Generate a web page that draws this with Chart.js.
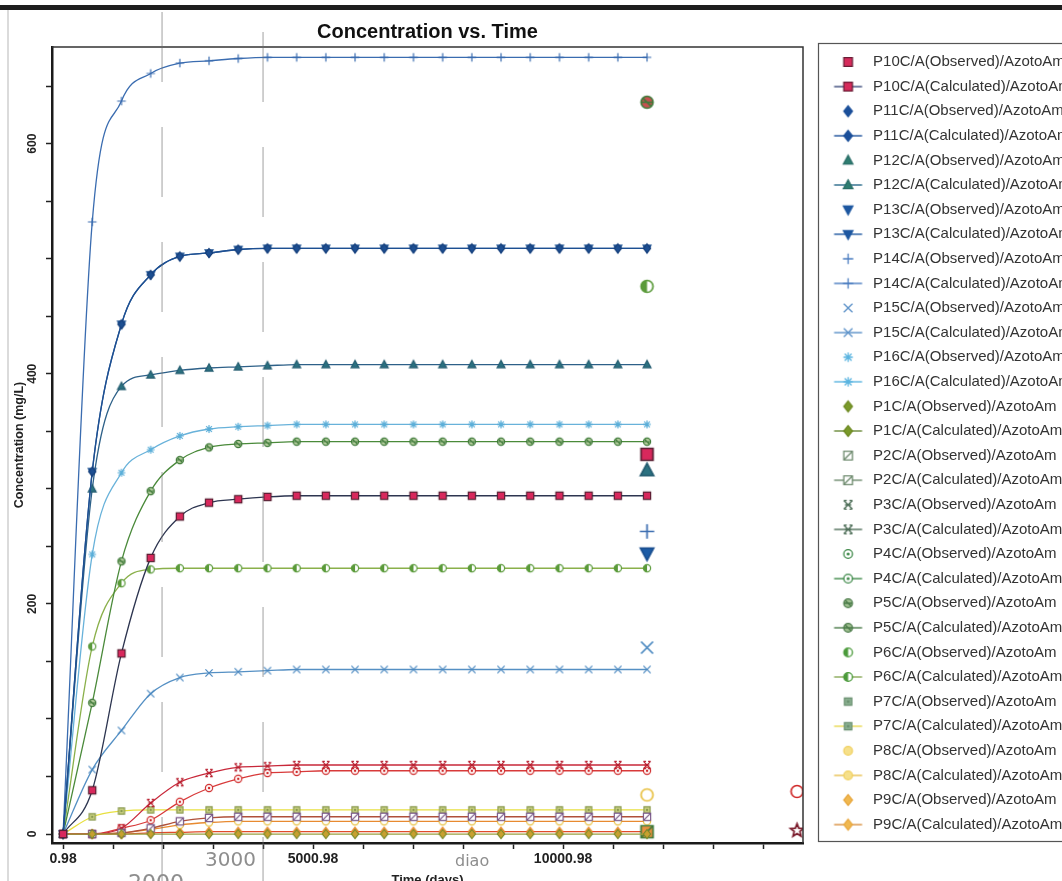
<!DOCTYPE html>
<html><head><meta charset="utf-8">
<script src="https://cdn.jsdelivr.net/npm/chart.js@4.4.1/dist/chart.umd.min.js"></script>
<style>html,body{margin:0;padding:0;overflow:hidden;background:#fff}#wrap{width:1062px;height:896px;position:relative}</style>
</head><body><div id="wrap"><canvas id="c" width="1062" height="896"></canvas></div>
<script>
// ---------- DATA ----------
const seriesNames = ['P10','P11','P12','P13','P14','P15','P16','P1','P2','P3','P4','P5','P6','P7','P8','P9'];
const calculatedDays = [0.98,584.98,1168.98,1752.98,2336.98,2920.98,3504.98,4088.98,4672.98,5256.98,5840.98,6424.98,7008.98,7592.98,8176.98,8760.98,9344.98,9928.98,10512.98,11096.98,11680.98];
const P10_calc = [0,38,157,240,276,288,291,293,294,294,294,294,294,294,294,294,294,294,294,294,294];
const P11_calc = [0,315,443,486,502,505,508,509,509,509,509,509,509,509,509,509,509,509,509,509,509];
const P12_calc = [0,300,389,399,403,405,406,407,408,408,408,408,408,408,408,408,408,408,408,408,408];
const P13_calc = [0,315,443,486,502,505,508,509,509,509,509,509,509,509,509,509,509,509,509,509,509];
const P14_calc = [0,532,637,661,670,672,674,675,675,675,675,675,675,675,675,675,675,675,675,675,675];
const P15_calc = [0,56,90,122,136,140,141,142,143,143,143,143,143,143,143,143,143,143,143,143,143];
const P16_calc = [0,243,314,334,346,352,354,355,356,356,356,356,356,356,356,356,356,356,356,356,356];
const P1_calc  = [0,0,0,0,0,0,0,0,0,0,0,0,0,0,0,0,0,0,0,0,0];
const P2_calc  = [0,0,1,5,11,14,15,15,15,15,15,15,15,15,15,15,15,15,15,15,15];
const P3_calc  = [0,0,5,27,45,53,58,59,60,60,60,60,60,60,60,60,60,60,60,60,60];
const P4_calc  = [0,0,5,12,28,40,48,53,54,55,55,55,55,55,55,55,55,55,55,55,55];
const P5_calc  = [0,114,237,298,325,336,339,340,341,341,341,341,341,341,341,341,341,341,341,341,341];
const P6_calc  = [0,163,218,230,231,231,231,231,231,231,231,231,231,231,231,231,231,231,231,231,231];
const P7_calc  = [0,15,20,21,21,21,21,21,21,21,21,21,21,21,21,21,21,21,21,21,21];
const P8_calc  = [0,0,1,4,8,10,11,11,11,11,11,11,11,11,11,11,11,11,11,11,11];
const P9_calc  = [0,0,0,1,1.5,2,2,2,2,2,2,2,2,2,2,2,2,2,2,2,2];
const calculatedValues = [P10_calc,P11_calc,P12_calc,P13_calc,P14_calc,P15_calc,P16_calc,P1_calc,P2_calc,P3_calc,P4_calc,P5_calc,P6_calc,P7_calc,P8_calc,P9_calc];
// observed: one measurement per series (null = not visible)
const observedDays   = [11680.98,null,11680.98,11680.98,11680.98,11680.98,null,null,11680.98,14680.98,14680.98,11680.98,11680.98,null,11680.98,null];
const observedValues = [330,null,316,244,263,162,null,null,2,3,37,636,476,null,34,null];
// axes
const xTickValues = [0.98,1000.98,2000.98,3000.98,4000.98,5000.98,6000.98,7000.98,8000.98,9000.98,10000.98,11000.98,12000.98,13000.98,14000.98];
const xTickLabels = ['0.98','5000.98','10000.98'];
const yTickValues = [0,50,100,150,200,250,300,350,400,450,500,550,600,650];
const yTickLabels = ['0','200','400','600'];
const annotationDays = [1980.98, 4000.98];
const handNotes = ['2000','3000','diao'];

// ---------- STYLES ----------
const styles = {
  P10:{kind:'square',  lgStroke:'#6a1d36',lgFill:'#d62b5b',lgLine:'#3b4a7a', line:'#2d3550', stroke:'#5a1f33', fill:'#d8285c'},
  P11:{kind:'diamond', lgStroke:'#1b4f9a',lgFill:'#1b4f9a',lgLine:'#1b4f9a', line:'#1d4f92', stroke:'#173f7a', fill:'#1d4f92'},
  P12:{kind:'tri',     lgStroke:'#2a6e68',lgFill:'#2e7d70',lgLine:'#2a6a8a', line:'#2d6088', stroke:'#245c70', fill:'#2b7180'},
  P13:{kind:'triDown', lgStroke:'#1d57a0',lgFill:'#1d57a0',lgLine:'#1d57a0', line:'#2a5c9a', stroke:'#1a4f90', fill:'#1d5ca6'},
  P14:{kind:'plus',    lgStroke:'#4a7cc0',lgFill:'#4a7cc0',lgLine:'#4a7cc0', line:'#3a6cb0', stroke:'#3a6cb0', fill:'#3a6cb0'},
  P15:{kind:'x',       lgStroke:'#5a90c8',lgFill:'#5a90c8',lgLine:'#5a90c8', line:'#5590c4', stroke:'#4a88c0', fill:'#4a88c0'},
  P16:{kind:'star',    lgStroke:'#5ab4e0',lgFill:'#5ab4e0',lgLine:'#5ab4e0', line:'#68b2da', stroke:'#5aaed8', fill:'#5aaed8'},
  P1: {kind:'diamond', lgStroke:'#6e8a22',lgFill:'#7a9a2a',lgLine:'#6a8a3a', line:'#9aa040', stroke:'#7a8a2a', fill:'#c8a030'},
  P2: {kind:'sqslash', lgStroke:'#6e8a6e',lgFill:'#ffffff',lgLine:'#6e8a6e', line:'#b0503a', stroke:'#7a5a8a', fill:'#ffffff', obsStroke:'#3f7a3a', obsFill:'#e89040'},
  P3: {kind:'xbox',    lgStroke:'#4e6e58',lgFill:'#4e6e58',lgLine:'#4e6e58', line:'#c8283a', stroke:'#b82030', fill:'#b82030', obsKind:'star5', obsStroke:'#7a1a2a', obsFill:'#ffffff'},
  P4: {kind:'circdot', lgStroke:'#3f8a4a',lgFill:'#ffffff',lgLine:'#3f8a4a', line:'#d83a3a', stroke:'#d02a2a', fill:'#ffffff', obsKind:'circle', obsFill:'#ffffff'},
  P5: {kind:'circline',lgStroke:'#4a7a48',lgFill:'#9fc090',lgLine:'#4a7a48', line:'#4a8a3a', stroke:'#3f7a3a', fill:'#b8d0a0', obsFill:'#c85050'},
  P6: {kind:'halfcirc',lgStroke:'#4a9a3a',lgFill:'#4a9a3a',lgLine:'#8aaa5a', line:'#8ab04a', stroke:'#5a9a3a', fill:'#5a9a3a'},
  P7: {kind:'sqdot',   lgStroke:'#6a9070',lgFill:'#8ab090',lgLine:'#e8d850', line:'#e8e040', stroke:'#8a9a50', fill:'#c8d080'},
  P8: {kind:'circle',  lgStroke:'#f0d060',lgFill:'#f6e08a',lgLine:'#e8c050', line:'#e88a30', stroke:'#e8c040', fill:'#ffffff'},
  P9: {kind:'diamond', lgStroke:'#e8a840',lgFill:'#f0b850',lgLine:'#d89040', line:'#e04a2a', stroke:'#e8862a', fill:'#f0a040'}
};

function drawMarker(ctx, kind, cx, cy, r, stroke, fill, lw){
  ctx.save(); ctx.lineWidth = lw; ctx.strokeStyle = stroke; ctx.fillStyle = fill; ctx.lineJoin='miter';
  ctx.beginPath();
  switch(kind){
    case 'square': ctx.rect(cx-r,cy-r,2*r,2*r); ctx.fill(); ctx.stroke(); break;
    case 'diamond': ctx.moveTo(cx,cy-r*1.25); ctx.lineTo(cx+r*1.0,cy); ctx.lineTo(cx,cy+r*1.25); ctx.lineTo(cx-r*1.0,cy); ctx.closePath(); ctx.fill(); ctx.stroke(); break;
    case 'tri': ctx.moveTo(cx,cy-r*1.2); ctx.lineTo(cx+r*1.1,cy+r*0.85); ctx.lineTo(cx-r*1.1,cy+r*0.85); ctx.closePath(); ctx.fill(); ctx.stroke(); break;
    case 'triDown': ctx.moveTo(cx,cy+r*1.2); ctx.lineTo(cx+r*1.1,cy-r*0.85); ctx.lineTo(cx-r*1.1,cy-r*0.85); ctx.closePath(); ctx.fill(); ctx.stroke(); break;
    case 'plus': ctx.moveTo(cx-r*1.2,cy); ctx.lineTo(cx+r*1.2,cy); ctx.moveTo(cx,cy-r*1.2); ctx.lineTo(cx,cy+r*1.2); ctx.stroke(); break;
    case 'x': ctx.moveTo(cx-r,cy-r); ctx.lineTo(cx+r,cy+r); ctx.moveTo(cx+r,cy-r); ctx.lineTo(cx-r,cy+r); ctx.stroke(); break;
    case 'star': ctx.moveTo(cx-r*1.1,cy); ctx.lineTo(cx+r*1.1,cy); ctx.moveTo(cx,cy-r*1.1); ctx.lineTo(cx,cy+r*1.1);
      ctx.moveTo(cx-r*0.8,cy-r*0.8); ctx.lineTo(cx+r*0.8,cy+r*0.8); ctx.moveTo(cx+r*0.8,cy-r*0.8); ctx.lineTo(cx-r*0.8,cy+r*0.8); ctx.stroke(); break;
    case 'star5': for(let k=0;k<10;k++){const ang=-Math.PI/2+k*Math.PI/5;const rr=(k%2===0)?r*1.15:r*0.5;const px=cx+rr*Math.cos(ang),py=cy+rr*Math.sin(ang);k?ctx.lineTo(px,py):ctx.moveTo(px,py);} ctx.closePath(); ctx.fill(); ctx.stroke(); break;
    case 'sqslash': ctx.rect(cx-r,cy-r,2*r,2*r); ctx.fill(); ctx.stroke(); ctx.beginPath(); ctx.moveTo(cx-r,cy+r); ctx.lineTo(cx+r,cy-r); ctx.stroke(); break;
    case 'xbox': ctx.moveTo(cx-r,cy-r); ctx.lineTo(cx+r,cy+r); ctx.moveTo(cx+r,cy-r); ctx.lineTo(cx-r,cy+r);
      ctx.moveTo(cx-r,cy-r); ctx.lineTo(cx-r*0.3,cy-r); ctx.moveTo(cx+r*0.3,cy-r); ctx.lineTo(cx+r,cy-r);
      ctx.moveTo(cx-r,cy+r); ctx.lineTo(cx-r*0.3,cy+r); ctx.moveTo(cx+r*0.3,cy+r); ctx.lineTo(cx+r,cy+r);
      ctx.moveTo(cx-r*0.7,cy); ctx.lineTo(cx+r*0.7,cy); ctx.stroke(); break;
    case 'circdot': ctx.arc(cx,cy,r,0,Math.PI*2); ctx.fill(); ctx.stroke(); ctx.beginPath(); ctx.fillStyle=stroke; ctx.arc(cx,cy,r*0.35,0,Math.PI*2); ctx.fill(); break;
    case 'circline': ctx.arc(cx,cy,r,0,Math.PI*2); ctx.fill(); ctx.stroke(); ctx.beginPath(); ctx.moveTo(cx-r,cy); ctx.lineTo(cx+r,cy); ctx.moveTo(cx-r*0.7,cy-r*0.7); ctx.lineTo(cx+r*0.7,cy+r*0.7); ctx.stroke(); break;
    case 'halfcirc': ctx.arc(cx,cy,r,0,Math.PI*2); ctx.fillStyle='#ffffff'; ctx.fill(); ctx.stroke(); ctx.beginPath(); ctx.fillStyle=fill; ctx.arc(cx,cy,r,Math.PI*0.5,Math.PI*1.5); ctx.closePath(); ctx.fill(); break;
    case 'sqdot': ctx.rect(cx-r*0.85,cy-r*0.85,1.7*r,1.7*r); ctx.fill(); ctx.stroke(); ctx.beginPath(); ctx.fillStyle=stroke; ctx.fillRect(cx-r*0.3,cy-r*0.3,r*0.6,r*0.6); break;
    case 'circle': ctx.arc(cx,cy,r,0,Math.PI*2); ctx.fill(); ctx.stroke(); break;
  }
  ctx.restore();
}
function makeCanvas(w,h){const c=document.createElement('canvas');c.width=w;c.height=h;return c;}
function pointImage(kind,r,stroke,fill,lw){
  const s=Math.ceil(2*r*1.3+2*lw+4); const c=makeCanvas(s,s);
  drawMarker(c.getContext('2d'),kind,s/2,s/2,r,stroke,fill,lw); return c;
}
function legendImage(st,withLine){
  const c=makeCanvas(53,18); const ctx=c.getContext('2d');
  if(withLine){ctx.strokeStyle=st.lgLine;ctx.lineWidth=1.4;ctx.beginPath();ctx.moveTo(21.5,9);ctx.lineTo(49.5,9);ctx.stroke();}
  drawMarker(ctx,st.kind,35.5,9,4.3,st.lgStroke,st.lgFill,1.3); return c;
}

// ---------- DATASETS ----------
const datasets=[]; const legendIcons=[];
seriesNames.forEach((name,i)=>{
  const st=styles[name];
  const obs = observedDays[i]!==null ? [{x:observedDays[i], y:observedValues[i]}] : [];
  datasets.push({label:name+'C/A(Observed)/AzotoAm', data:obs, showLine:false,
    pointStyle:pointImage(st.obsKind||st.kind,6,st.obsStroke||st.stroke,st.obsFill||st.fill,1.7), pointRadius:6, borderColor:st.stroke, backgroundColor:st.fill});
  legendIcons.push(legendImage(st,false));
  datasets.push({label:name+'C/A(Calculated)/AzotoAm',
    data:calculatedDays.map((d,k)=>({x:d,y:calculatedValues[i][k]})), showLine:true,
    borderColor:st.line, borderWidth:1.3, cubicInterpolationMode:'monotone',
    pointStyle:pointImage(st.kind,3.6,st.stroke,st.fill,1.2), pointRadius:4, backgroundColor:st.fill});
  legendIcons.push(legendImage(st,true));
});

Chart.defaults.font.family='"Liberation Sans", Arial, Helvetica, sans-serif';
Chart.defaults.color='#222';

const decor={
  id:'decor',
  beforeDraw(chart){const c=chart.ctx;c.save();c.fillStyle='#ffffff';c.fillRect(0,0,chart.width,chart.height);c.restore();},
  afterDraw(chart){
    const c=chart.ctx, a=chart.chartArea, xs=chart.scales.x, lg=chart.legend;
    c.save();
    // plot frame (top/right)
    c.strokeStyle='#333';c.lineWidth=1.5;c.beginPath();c.moveTo(a.left,a.top);c.lineTo(a.right,a.top);c.lineTo(a.right,a.bottom);c.stroke();
    // legend frame
    c.strokeStyle='#555';c.lineWidth=1.2;c.strokeRect(lg.left+15.5,a.top-3.5,400,a.bottom-a.top+2);
    // scan artifacts
    c.fillStyle='#1e1e1e';c.fillRect(0,5,chart.width,5);
    c.strokeStyle='#cfcfcf';c.lineWidth=1.5;c.beginPath();c.moveTo(8,10);c.lineTo(8,chart.height);c.stroke();
    c.strokeStyle='rgba(110,110,110,0.5)';c.lineWidth=1.3;c.setLineDash([70,45]);
    annotationDays.forEach((d,j)=>{const px=xs.getPixelForValue(d);c.beginPath();c.moveTo(px,12+j*20);c.lineTo(px,chart.height);c.stroke();});
    c.setLineDash([]);
    // handwritten notes
    c.fillStyle='#8e8e8e';
    c.font='22px "DejaVu Sans"';c.fillText(handNotes[0],128,890);
    c.font='20px "DejaVu Sans"';c.fillText(handNotes[1],205,866);
    c.font='16px "DejaVu Sans"';c.fillText(handNotes[2],455,866);
    c.restore();
  }
};

new Chart(document.getElementById('c'),{
  type:'scatter',
  data:{datasets},
  options:{
    responsive:false, animation:false, devicePixelRatio:1, events:[],
    layout:{padding:0},
    plugins:{
      tooltip:{enabled:false},
      title:{display:true,text:'Concentration vs. Time',fullSize:false,color:'#111',
        font:{size:20,weight:'bold'},padding:{top:20,bottom:3}},
      legend:{position:'right',align:'start',maxWidth:259,
        title:{display:true,text:' ',font:{size:12},padding:{top:15.25,bottom:15.25}},
        labels:{usePointStyle:true,pointStyleWidth:53,padding:9.6,color:'#333',font:{size:15},
          generateLabels(chart){return chart.data.datasets.map((ds,i)=>({text:ds.label,pointStyle:legendIcons[i],
            fillStyle:'#fff',strokeStyle:'#fff',lineWidth:0,hidden:false,datasetIndex:i,fontColor:'#333'}));}}
      }
    },
    scales:{
      x:{type:'linear',position:'bottom',min:-220,max:14800,
        afterBuildTicks(s){s.ticks=xTickValues.map(v=>({value:v}));},
        afterFit(s){s.height=53;},
        ticks:{autoSkip:false,maxRotation:0,padding:2,color:'#222',font:{size:14,weight:'bold'},
          callback(v){const t=(Math.round(v*100)/100).toString();return xTickLabels.includes(t)?t:'';}},
        grid:{drawOnChartArea:false,drawTicks:true,tickLength:6,tickColor:'#222',tickWidth:1.5},
        border:{display:true,color:'#1a1a1a',width:2.5},
        title:{display:true,text:'Time (days)',color:'#222',font:{size:13,weight:'bold'},padding:{top:0,bottom:8}}
      },
      y:{type:'linear',position:'left',min:-7.8,max:684,
        afterBuildTicks(s){s.ticks=yTickValues.map(v=>({value:v}));},
        afterFit(s){s.width=52;},
        ticks:{autoSkip:false,minRotation:90,maxRotation:90,crossAlign:'center',padding:3,color:'#222',font:{size:12,weight:'bold'},
          callback(v){const t=String(v);return yTickLabels.includes(t)?t:'';}},
        grid:{drawOnChartArea:false,drawTicks:true,tickLength:6,tickColor:'#222',tickWidth:1.5},
        border:{display:true,color:'#1a1a1a',width:2.5},
        title:{display:true,text:'Concentration (mg/L)',color:'#222',font:{size:12.5,weight:'bold'},padding:{top:12,bottom:0}}
      }
    }
  },
  plugins:[decor]
});
</script></body></html>
